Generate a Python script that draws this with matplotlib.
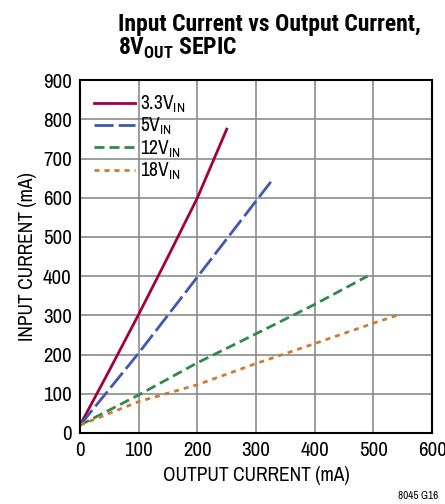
import matplotlib
matplotlib.use("Agg")
import matplotlib.pyplot as plt

plt.rcParams['font.family'] = ['Archivo Narrow', 'DejaVu Sans']
plt.rcParams['mathtext.fontset'] = 'custom'
plt.rcParams['mathtext.rm'] = 'Archivo Narrow'
plt.rcParams['mathtext.bf'] = 'Roboto Condensed:bold'

# data (mA)
x33 = [0, 50, 100, 150, 200, 250]
y33 = [20, 160, 303, 450, 600, 775]
x5 = [0, 100, 200, 250, 330]
y5 = [20, 204, 398, 495, 650]
x12 = [0, 100, 200, 300, 400, 490]
y12 = [20, 97, 179, 253, 328, 400]
x18 = [0, 100, 200, 300, 400, 500, 540]
y18 = [20, 80, 123, 177, 228, 280, 300]

labels = ['3.3V$_{\\mathrm{IN}}$', '5V$_{\\mathrm{IN}}$',
          '12V$_{\\mathrm{IN}}$', '18V$_{\\mathrm{IN}}$']
xticks = [0, 100, 200, 300, 400, 500, 600]
yticks = [0, 100, 200, 300, 400, 500, 600, 700, 800, 900]

fig = plt.figure(figsize=(4.45, 5.04), dpi=100)
ax = fig.add_axes([0.18, 0.141, 0.791, 0.700])

lw = 2.0
ax.plot(x33, y33, color='#a1003c', lw=lw, label=labels[0])
ax.plot(x5, y5, color='#3f58b2', lw=lw, dashes=(6.9, 1.8), label=labels[1])
ax.plot(x12, y12, color='#2f8a48', lw=lw, dashes=(3.6, 1.8), label=labels[2])
ax.plot(x18, y18, color='#cd7a32', lw=lw, dashes=(1.8, 1.8), label=labels[3])

ax.set_xlim(0, 600)
ax.set_ylim(0, 900)
ax.set_xticks(xticks)
ax.set_yticks(yticks)
ax.grid(True, color='#8c8c8c', lw=1.2)
ax.tick_params(length=0, labelsize=15, pad=6)
for s in ax.spines.values():
    s.set_linewidth(1.5)

ax.set_xlabel('OUTPUT CURRENT (mA)', fontsize=14, labelpad=4)
ax.set_ylabel('INPUT CURRENT (mA)', fontsize=14, labelpad=4)

leg = ax.legend(loc='upper left', frameon=False, fontsize=14, handlelength=2.1,
                handletextpad=0.3, labelspacing=0.05, borderaxespad=0.3)

fig.text(0.265, 0.975, 'Input Current vs Output Current,\n8V$_{\\mathbf{OUT}}$ SEPIC',
         family='Roboto Condensed', fontsize=17, fontweight='bold',
         va='top', ha='left', linespacing=1.0)
fig.text(0.985, 0.005, '8045 G16', fontsize=8, ha='right', va='bottom')

fig.savefig('out.png', dpi=100)
